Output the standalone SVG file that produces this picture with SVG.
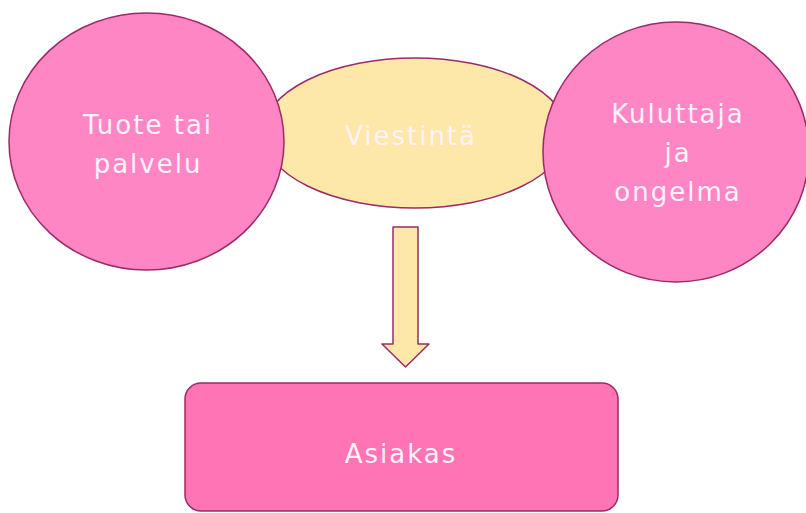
<svg xmlns="http://www.w3.org/2000/svg" width="806" height="513" viewBox="0 0 806 513">
<style>
.shape{stroke:#9c2a66;stroke-width:1.5}
.circ{fill:#ff86c5}
.lbl{font-family:"DejaVu Sans","Liberation Sans",sans-serif;font-size:26px;fill:#fff2f9;text-anchor:middle;letter-spacing:2px}
</style>
<rect width="806" height="513" fill="#ffffff"/>
<g id="viestinta">
<ellipse class="shape" cx="415" cy="133" rx="152" ry="75" fill="#fde7a9"/>
<text class="lbl" x="411" y="145">Viestintä</text>
</g>
<g id="tuote">
<ellipse class="shape circ" cx="146.5" cy="141.5" rx="137.5" ry="128.5"/>
<text class="lbl" x="148" y="134">Tuote tai</text>
<text class="lbl" x="148" y="173">palvelu</text>
</g>
<g id="kuluttaja">
<ellipse class="shape circ" cx="676" cy="152" rx="133" ry="130"/>
<text class="lbl" x="678" y="123">Kuluttaja</text>
<text class="lbl" x="678" y="162">ja</text>
<text class="lbl" x="678" y="201">ongelma</text>
</g>
<g id="connectors">
<path class="shape" d="M393,227 H418 V344 H429 L405.5,367 L382,344 H393 Z" fill="#fde7a9" stroke-linejoin="round"/>
</g>
<g id="asiakas">
<rect class="shape" x="185" y="383" width="433" height="128" rx="16" fill="#ff74b4"/>
<text class="lbl" x="401" y="463">Asiakas</text>
</g>
</svg>
